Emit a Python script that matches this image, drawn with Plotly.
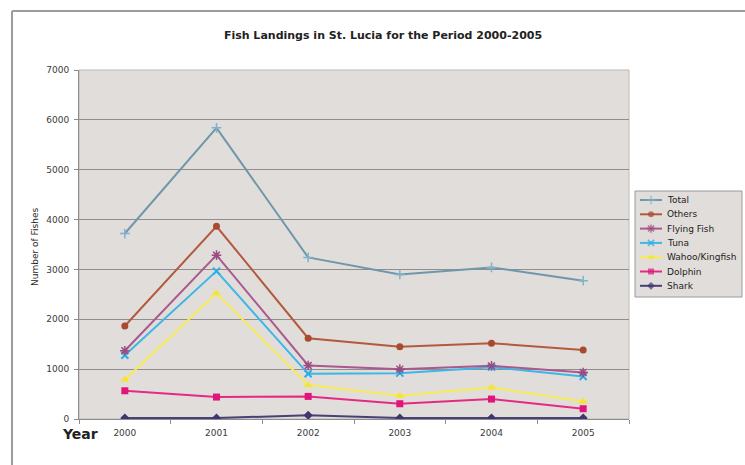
import plotly.graph_objects as go

# Landings by year (number of fishes)
years = ["2000", "2001", "2002", "2003", "2004", "2005"]
total = [3720, 5840, 3240, 2900, 3040, 2775]
others = [1866, 3866, 1620, 1450, 1520, 1386]
flying_fish = [1370, 3286, 1073, 1000, 1066, 933]
tuna = [1280, 2966, 906, 920, 1040, 853]
wahoo_kingfish = [786, 2520, 680, 466, 633, 353]
dolphin = [566, 440, 453, 306, 400, 206]
shark = [20, 20, 73, 20, 20, 20]

series_names = ["Total", "Others", "Flying Fish", "Tuna", "Wahoo/Kingfish", "Dolphin", "Shark"]
series_values = [total, others, flying_fish, tuna, wahoo_kingfish, dolphin, shark]

styles = {
    "Total": dict(color="#6f97ab", symbol="cross-thin", size=7, mcolor="#7fb2cc", lw=1.5),
    "Others": dict(color="#b25a3d", symbol="circle", size=7, mcolor="#a84a30", lw=0),
    "Flying Fish": dict(color="#a9598d", symbol="asterisk", size=8, mcolor="#9c4a82", lw=1.5),
    "Tuna": dict(color="#3db6e8", symbol="x-thin", size=7, mcolor="#2aaee6", lw=2),
    "Wahoo/Kingfish": dict(color="#f6ec55", symbol="triangle-up", size=8, mcolor="#f4e630", lw=0),
    "Dolphin": dict(color="#e52a84", symbol="square", size=7, mcolor="#e0157a", lw=0),
    "Shark": dict(color="#4a4078", symbol="diamond", size=7, mcolor="#3f3570", lw=0),
}

FONT = "DejaVu Sans, Verdana, sans-serif"

W, H = 745, 465
ML, MR, MT, MB = 79, 0, 70, 46
PW = W - ML - MR
PH = H - MT - MB
plot_right = 629  # right edge of the chart area

fig = go.Figure()

# data series, drawn back to front
for name, vals in reversed(list(zip(series_names, series_values))):
    s = styles[name]
    fig.add_trace(go.Scatter(
        x=years, y=vals, name=name, mode="lines+markers",
        line=dict(color=s["color"], width=2),
        marker=dict(symbol=s["symbol"], size=s["size"], color=s["mcolor"],
                    line=dict(width=s["lw"], color=s["mcolor"])),
        showlegend=False, hoverinfo="x+y+name",
    ))

# legend samples on a small overlay axis pair
leg_left, leg_right, leg_top, leg_bottom = 635, 742, 191, 297
row0, row_step = 200, 14.3
for i, name in enumerate(series_names):
    s = styles[name]
    fig.add_trace(go.Scatter(
        x=[5, 16, 27], y=[i, i, i], mode="lines+markers", xaxis="x2", yaxis="y2",
        line=dict(color=s["color"], width=2),
        marker=dict(symbol=s["symbol"], size=[0, s["size"] - 1, 0], color=s["mcolor"],
                    line=dict(width=s["lw"], color=s["mcolor"])),
        showlegend=False, hoverinfo="skip",
    ))
    fig.add_annotation(x=30, y=i, xref="x2", yref="y2", text=name, showarrow=False,
                       xanchor="left", yanchor="middle",
                       font=dict(family=FONT, size=9, color="#222"))

fig.add_shape(type="rect", xref="x2 domain", yref="y2 domain", x0=0, x1=1, y0=0, y1=1,
              line=dict(color="#9a9a9a", width=1), fillcolor="rgba(0,0,0,0)", layer="below")


def px_x(p):
    return (p - ML) / PW


def px_y(p):
    return (H - MB - p) / PH


# outer chart frame
frame = dict(color="#9c9c9c", width=2)
fig.add_shape(type="line", xref="paper", yref="paper", x0=px_x(12), x1=px_x(745),
              y0=px_y(11), y1=px_y(11), line=frame)
fig.add_shape(type="line", xref="paper", yref="paper", x0=px_x(12), x1=px_x(12),
              y0=px_y(11), y1=px_y(465), line=frame)
# light border around the plotting area
fig.add_shape(type="rect", xref="x domain", yref="y domain", x0=0, x1=1, y0=0, y1=1,
              line=dict(color="#bdb8b4", width=1), layer="below")

fig.add_annotation(text="Number of Fishes", xref="paper", yref="paper",
                   x=px_x(35), y=px_y(247), textangle=-90, showarrow=False,
                   xanchor="center", yanchor="middle",
                   font=dict(family=FONT, size=9, color="#1e1e1e"))
fig.add_annotation(text="<b>Year</b>", xref="paper", yref="paper",
                   x=px_x(80), y=px_y(434), showarrow=False,
                   xanchor="center", yanchor="middle",
                   font=dict(family=FONT, size=14, color="#222"))

fig.update_layout(
    width=W, height=H,
    margin=dict(l=ML, r=MR, t=MT, b=MB, pad=0),
    paper_bgcolor="white",
    plot_bgcolor="#e1ddda",
    title=dict(text="<b>Fish Landings in St. Lucia for the Period 2000-2005</b>",
               xref="paper", x=px_x(383), xanchor="center",
               yref="container", y=1 - 35 / H, yanchor="middle",
               font=dict(family=FONT, size=11, color="#222")),
    xaxis=dict(
        type="category", domain=[0, (plot_right - ML) / PW], range=[-0.5, 5.5],
        showline=True, linecolor="#8c8c8c", linewidth=1,
        ticks="outside", tickson="boundaries", ticklen=4, tickcolor="#8c8c8c",
        showgrid=False, ticklabelstandoff=5,
        tickfont=dict(family=FONT, size=9, color="#3a3a3a"),
    ),
    yaxis=dict(
        range=[0, 7000], dtick=1000, showline=True, linecolor="#8c8c8c", linewidth=1,
        ticks="outside", ticklen=4, tickcolor="#8c8c8c",
        showgrid=True, gridcolor="#8e8e8e", gridwidth=1, zeroline=False,
        ticklabelstandoff=3,
        tickfont=dict(family=FONT, size=9, color="#3a3a3a"),
    ),
    xaxis2=dict(domain=[px_x(leg_left), px_x(leg_right)], range=[0, leg_right - leg_left],
                anchor="y2", visible=False, fixedrange=True),
    yaxis2=dict(domain=[px_y(leg_bottom), px_y(leg_top)],
                range=[(leg_bottom - row0) / row_step, (leg_top - row0) / row_step],
                anchor="x2", visible=False, fixedrange=True),
    showlegend=False,
)

fig.write_html("out.html")
